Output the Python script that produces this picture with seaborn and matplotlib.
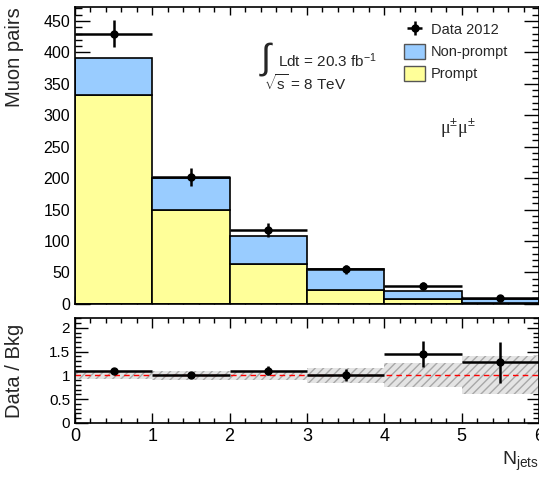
import numpy as np
import pandas as pd
import seaborn as sns
import matplotlib
matplotlib.use('Agg')
import matplotlib.pyplot as plt
from matplotlib.patches import Patch
from matplotlib.ticker import MultipleLocator

# Values
bin_edges = [0, 1, 2, 3, 4, 5, 6]
bin_centers = [0.5, 1.5, 2.5, 3.5, 4.5, 5.5]
prompt = [333, 150, 64, 22, 7, 1]
nonprompt = [58, 51, 44, 33, 13, 7]
data = [430, 202, 118, 55, 29, 9]
data_err = [21, 14, 11, 7, 5, 3]
ratio = [1.10, 1.01, 1.10, 1.00, 1.45, 1.27]
ratio_err = [0.05, 0.07, 0.10, 0.13, 0.28, 0.43]
band_err = [0.08, 0.09, 0.10, 0.16, 0.25, 0.40]

sns.set_style('ticks', {'axes.edgecolor': 'black', 'xtick.color': 'black', 'ytick.color': 'black'})
plt.rcParams['font.family'] = ['Liberation Sans', 'DejaVu Sans']
plt.rcParams['mathtext.fontset'] = 'custom'
plt.rcParams['mathtext.rm'] = 'Liberation Sans'
plt.rcParams['mathtext.it'] = 'Liberation Sans:italic'

blue = '#99ccff'
yellow = '#ffff99'

fig = plt.figure(figsize=(5.39, 4.80), dpi=100)
ax = fig.add_axes([0.139, 0.367, 0.861, 0.618])
rax = fig.add_axes([0.139, 0.119, 0.861, 0.218])

# stacked backgrounds
df = pd.DataFrame({
    'njets': bin_centers * 2,
    'n': nonprompt + prompt,
    'process': ['Non-prompt'] * 6 + ['Prompt'] * 6,
})
sns.histplot(data=df, x='njets', weights='n', hue='process',
             hue_order=['Non-prompt', 'Prompt'], multiple='stack',
             bins=bin_edges, palette={'Non-prompt': blue, 'Prompt': yellow},
             edgecolor='black', linewidth=1.2, alpha=1, legend=False, ax=ax)

# data
xerr = [0.5] * 6
dat = ax.errorbar(bin_centers, data, xerr=xerr, yerr=data_err, fmt='o',
                  color='black', ms=5, elinewidth=1.8, capsize=0, zorder=5)

ax.set_xlim(0, 6)
ax.set_ylim(0, 472)
ax.set_xlabel('')
ax.set_ylabel('Muon pairs', fontsize=14.5, loc='top')
ax.set_xticklabels([])
ax.yaxis.set_major_locator(MultipleLocator(50))
ax.yaxis.set_minor_locator(MultipleLocator(10))
ax.xaxis.set_major_locator(MultipleLocator(1))
ax.xaxis.set_minor_locator(MultipleLocator(0.2))
ax.tick_params(axis='both', which='both', direction='in', top=True, right=True, labelsize=11.5)
ax.tick_params(axis='y', which='major', length=11, width=1)
ax.tick_params(axis='y', which='minor', length=5, width=1)
ax.tick_params(axis='x', which='major', length=6, width=1)
ax.tick_params(axis='x', which='minor', length=3.5, width=1)

handles = [dat, Patch(facecolor=blue, edgecolor='#555555'),
           Patch(facecolor=yellow, edgecolor='#555555')]
ax.legend(handles, ['Data 2012', 'Non-prompt', 'Prompt'], loc='upper left',
          bbox_to_anchor=(0.68, 0.995), frameon=False, fontsize=10.5,
          handlelength=1.5, handleheight=1.2, handletextpad=0.35, labelspacing=0.45)

ax.text(2.40, 390, '\u222b', fontsize=26, va='center', ha='left')
ax.text(2.63, 387, 'Ldt = 20.3 fb$^{-1}$', fontsize=11, va='center', ha='left')
ax.text(2.44, 352, r'$\sqrt{\mathregular{s}}$ = 8 TeV', fontsize=11, va='center', ha='left')
ax.text(4.72, 280, '\u03bc$^{\u00b1}$\u03bc$^{\u00b1}$', fontsize=13, va='center',
        ha='left', family=['Liberation Serif', 'DejaVu Serif'])

# ratio panel
lo = [1 - e for e in band_err]
hi = [1 + e for e in band_err]
rax.stairs(hi, bin_edges, baseline=lo, fill=True, facecolor='#e4e4e4',
           edgecolor='#a8a8a8', hatch='////', linewidth=0, zorder=1)
rax.axhline(1, color='red', ls='--', lw=1, dashes=(4, 3), zorder=2)
rax.errorbar(bin_centers, ratio, xerr=xerr, yerr=ratio_err, fmt='o',
             color='black', ms=5, elinewidth=1.8, capsize=0, zorder=5)
rax.set_xlim(0, 6)
rax.set_ylim(0, 2.2)
rax.set_ylabel('Data / Bkg', fontsize=14.5)
rax.set_xlabel(r'N$_{\mathregular{jets}}$', fontsize=14, loc='right')
rax.xaxis.set_major_locator(MultipleLocator(1))
rax.xaxis.set_minor_locator(MultipleLocator(0.2))
rax.yaxis.set_major_locator(MultipleLocator(0.5))
rax.yaxis.set_minor_locator(MultipleLocator(0.1))
rax.set_yticks([0, 0.5, 1, 1.5, 2])
rax.set_yticklabels(['0', '0.5', '1', '1.5', '2'])
rax.tick_params(axis='both', which='both', direction='in', top=True, right=True)
rax.tick_params(axis='y', labelsize=11)
rax.tick_params(axis='x', labelsize=13)
rax.tick_params(axis='y', which='major', length=9, width=1)
rax.tick_params(axis='y', which='minor', length=4, width=1)
rax.tick_params(axis='x', which='major', length=7, width=1)
rax.tick_params(axis='x', which='minor', length=3.5, width=1)

for a in (ax, rax):
    for s in a.spines.values():
        s.set_linewidth(1.2)
    a.yaxis.set_label_coords(-0.11, a.yaxis.label.get_position()[1])

fig.savefig('out.png', dpi=100)
